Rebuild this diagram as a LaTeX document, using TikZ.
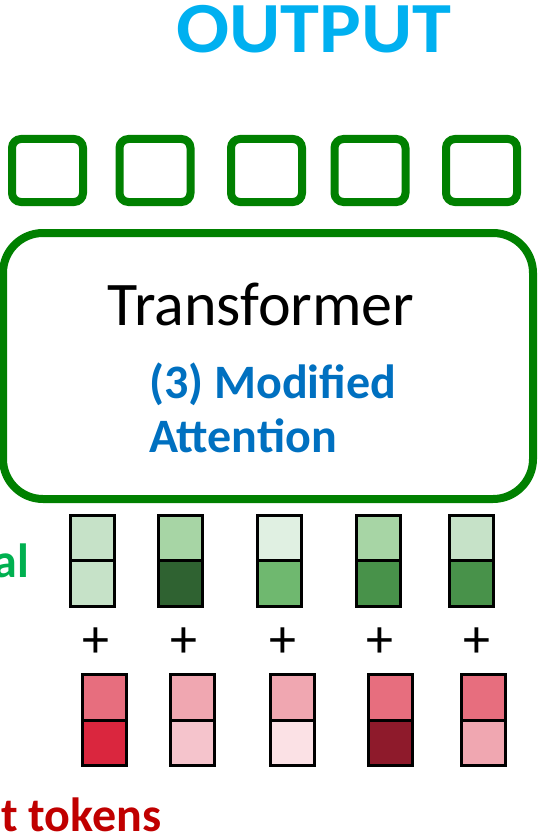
\documentclass[tikz,border=0pt]{standalone}
\usepackage{fontspec}
\setmainfont{Carlito}
\usepackage{xcolor}
\usepackage{tikz}
\usetikzlibrary{positioning}
\definecolor{outgreen}{RGB}{0,128,0}
\definecolor{outcyan}{RGB}{0,176,240}
\definecolor{attnblue}{RGB}{0,112,192}
\definecolor{posgreen}{RGB}{0,176,80}
\definecolor{tokred}{RGB}{192,0,0}
\definecolor{ga}{RGB}{198,226,200}
\definecolor{gb}{RGB}{167,213,165}
\definecolor{gc}{RGB}{224,240,226}
\definecolor{gd}{RGB}{111,184,111}
\definecolor{ge}{RGB}{72,146,74}
\definecolor{gf}{RGB}{47,98,49}
\definecolor{ra}{RGB}{231,110,126}
\definecolor{rb}{RGB}{218,38,62}
\definecolor{rc}{RGB}{240,167,177}
\definecolor{rd}{RGB}{245,196,204}
\definecolor{re}{RGB}{251,225,229}
\definecolor{rf}{RGB}{142,26,43}
\tikzset{
  outbox/.style={
    draw=outgreen,
    line width=8pt,
    rounded corners=9pt,
    minimum width=71pt,
    minimum height=63pt,
    inner sep=0pt
  },
  tfbox/.style={
    draw=outgreen,
    line width=8pt,
    rounded corners=40pt,
    minimum width=530pt,
    minimum height=266pt,
    inner sep=0pt
  },
  cell/.style={
    draw=black,
    line width=3pt,
    minimum width=44pt,
    minimum height=45.5pt,
    inner sep=0pt,
    outer sep=0pt
  },
  plussign/.style={font=\fontsize{54}{54}\selectfont,inner sep=0pt},
  bigtext/.style={inner sep=0pt,font=\fontsize{48}{48}\selectfont\bfseries}
}

\begin{document}
\begin{tikzpicture}[x=1pt,y=-1pt]
  \useasboundingbox (0,0) rectangle (539,837);
  \node[anchor=base,inner sep=0pt,text=outcyan,font=\fontsize{72}{72}\selectfont\bfseries] (out) at (314,53) {\scalebox{1.09}[1]{OUTPUT}};

  % output slots
  \foreach \x [count=\i] in {47.5,155,266.5,370,481.5}
    \node[outbox] (slot\i) at (\x,170.5) {};

  \node[tfbox] (tf) at (268,366) {};
  \node[anchor=base,inner sep=0pt,font=\fontsize{62}{62}\selectfont] (tftext) at (261,325) {Transformer};
  \node[bigtext,anchor=base west,text=attnblue] (attn1) at (149,398) {(3) Modified};
  \node[bigtext,anchor=base west,text=attnblue] (attn2) at (149,452) {Attention};

  % positional encodings
  \foreach \x/\ct/\cb [count=\i] in {92/ga/ga,180.5/gb/gf,279.5/gc/gd,378.5/gb/ge,471.5/ga/ge} {
    \node[cell,fill=\ct] (pt\i) at (\x,538) {};
    \node[cell,fill=\cb,below=0pt of pt\i] (pb\i) {};
  }
  \node[bigtext,anchor=base east,text=posgreen] (poslabel) at (29,577) {al};

  \foreach \x [count=\i] in {96,184,283,380,477}
    \node[plussign] (plus\i) at (\x,643) {+};

  % input tokens
  \foreach \x/\ct/\cb [count=\i] in {104.5/ra/rb,192.5/rc/rd,292/rc/re,390/ra/rf,483.5/ra/rc} {
    \node[cell,fill=\ct] (tt\i) at (\x,697.5) {};
    \node[cell,fill=\cb,below=0pt of tt\i] (tb\i) {};
  }
  \node[bigtext,anchor=base west,text=tokred] (toklabel) at (1,831) {t tokens};
\end{tikzpicture}
\end{document}
